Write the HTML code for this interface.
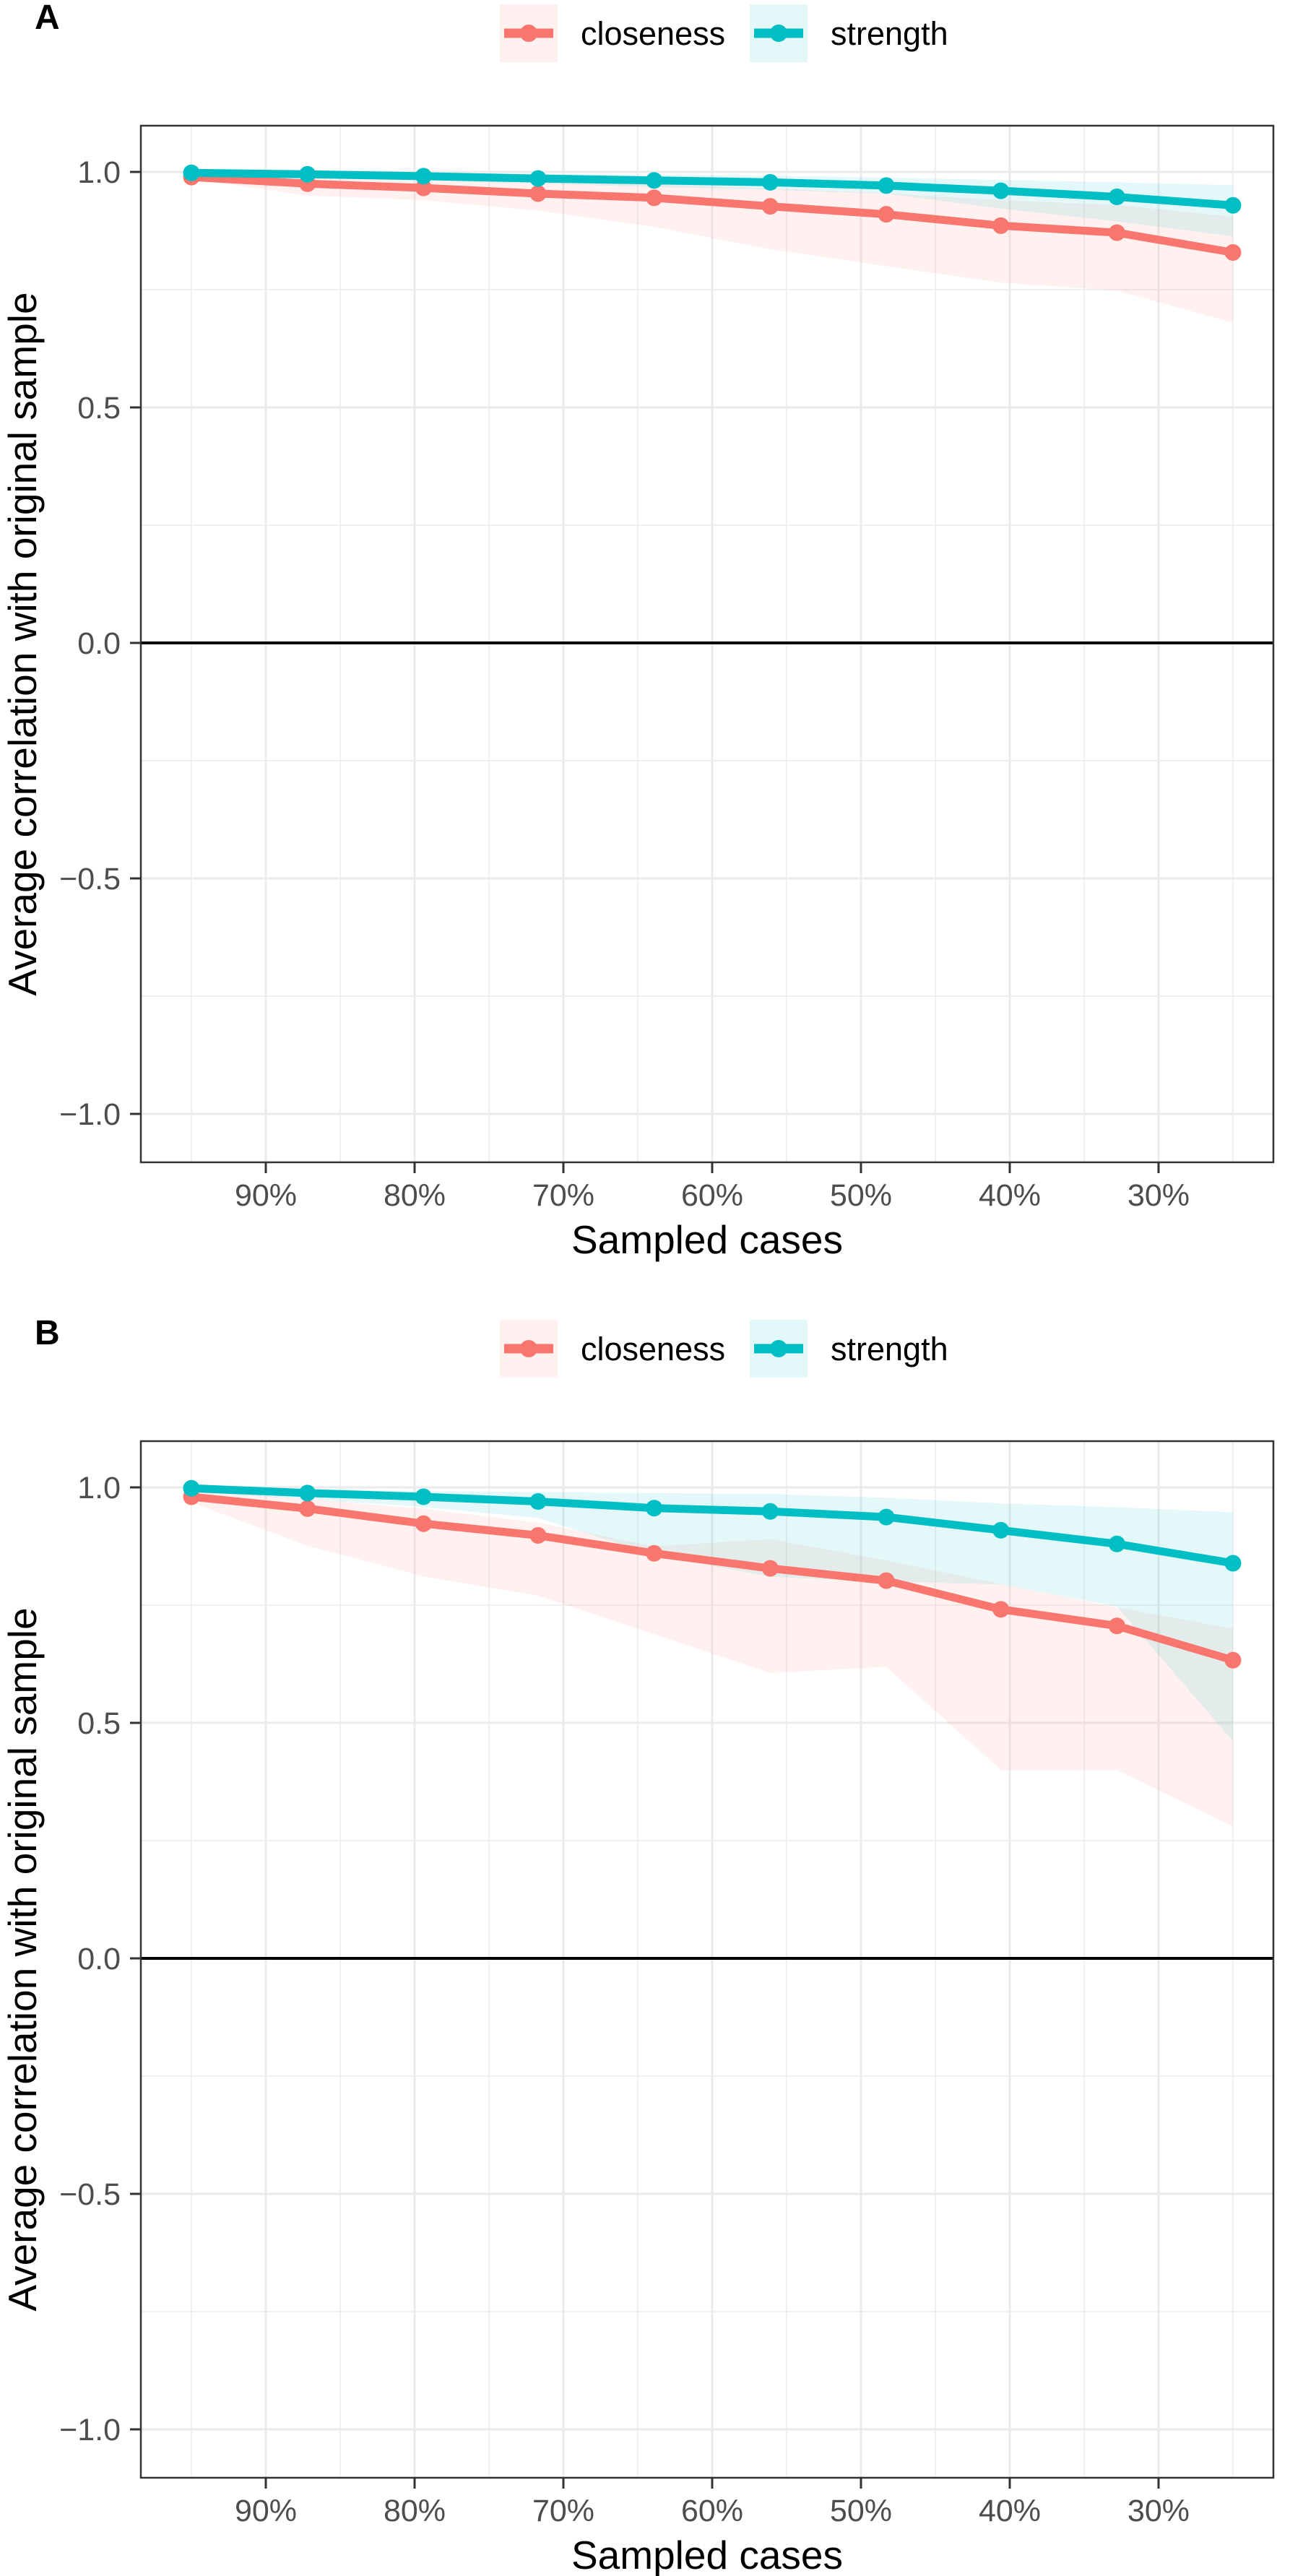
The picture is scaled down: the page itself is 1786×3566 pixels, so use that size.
<!DOCTYPE html>
<html><head><meta charset="utf-8">
<style>
html,body{margin:0;padding:0;background:#fff;}
svg{display:block;font-family:"Liberation Sans",Arial,sans-serif;}
</style></head>
<body>
<svg id="fig" width="1786" height="3566" viewBox="0 0 1786 3566" xmlns="http://www.w3.org/2000/svg"></svg>
<script>
// ---- data ----
const sampledPct = [95, 87.2, 79.4, 71.7, 63.9, 56.1, 48.3, 40.6, 32.8, 25];
const xTickPct = [90, 80, 70, 60, 50, 40, 30];
const xTickLabels = ["90%", "80%", "70%", "60%", "50%", "40%", "30%"];
const yTickVals = [1.0, 0.5, 0.0, -0.5, -1.0];
const yTickLabels = ["1.0", "0.5", "0.0", "\u22120.5", "\u22121.0"];

const aCloseness = [0.989, 0.975, 0.966, 0.954, 0.945, 0.927, 0.910, 0.886, 0.871, 0.829];
const aCloseLo   = [0.985, 0.950, 0.940, 0.918, 0.883, 0.836, 0.800, 0.765, 0.748, 0.680];
const aCloseHi   = [0.998, 0.992, 0.988, 0.980, 0.975, 0.965, 0.955, 0.940, 0.930, 0.905];
const aStrength  = [0.998, 0.995, 0.991, 0.986, 0.982, 0.978, 0.971, 0.960, 0.947, 0.929];
const aStrLo     = [0.995, 0.988, 0.982, 0.975, 0.968, 0.962, 0.954, 0.922, 0.895, 0.863];
const aStrHi     = [1.000, 0.999, 0.998, 0.996, 0.994, 0.992, 0.988, 0.983, 0.978, 0.972];

const bCloseness = [0.980, 0.955, 0.923, 0.898, 0.860, 0.828, 0.802, 0.741, 0.706, 0.633];
const bCloseLo   = [0.968, 0.876, 0.811, 0.770, 0.688, 0.606, 0.619, 0.400, 0.400, 0.280];
const bCloseHi   = [0.995, 0.975, 0.955, 0.925, 0.875, 0.890, 0.845, 0.795, 0.745, 0.700];
const bStrength  = [0.998, 0.988, 0.980, 0.970, 0.956, 0.949, 0.937, 0.909, 0.880, 0.839];
const bStrLo     = [0.990, 0.975, 0.958, 0.935, 0.857, 0.810, 0.800, 0.794, 0.747, 0.461];
const bStrHi     = [1.000, 0.996, 0.992, 0.990, 0.988, 0.986, 0.978, 0.966, 0.958, 0.947];

const NS = "http://www.w3.org/2000/svg";
const svg = document.getElementById("fig");
const RED = "#F8766D", TEAL = "#00BFC4";

function mk(tag, attrs, parent) {
  const e = document.createElementNS(NS, tag);
  for (const k in attrs) e.setAttribute(k, attrs[k]);
  parent.appendChild(e);
  return e;
}

function drawPanel(off, label, close, closeLo, closeHi, str, strLo, strHi) {
  const g = mk("g", {}, svg);
  
  
  const L = 195, R = 1763, T = 174 + off, B = 1609 + off;
  const xs = p => 368 + (90 - p) * 20.6;
  const ys = v => 890 + off - v * 652;

  const pl = mk("text", {x: 48, y: 40 + off, "font-size": 48, "font-weight": "bold", fill: "#000"}, g);
  pl.textContent = label;
  
  

  const leg = mk("g", {}, g);
  
  
  const entries = [["closeness", RED, 692, 804], ["strength", TEAL, 1038, 1150]];
  entries.forEach(en => {
    const eg = mk("g", {}, leg);
    
    
    mk("rect", {x: en[2], y: 6 + off, width: 80, height: 80, fill: en[1], "fill-opacity": 0.1}, eg);
    mk("line", {x1: en[2] + 6, x2: en[2] + 74, y1: 46 + off, y2: 46 + off, stroke: en[1], "stroke-width": 13}, eg);
    mk("circle", {cx: en[2] + 40, cy: 46 + off, r: 12, fill: en[1]}, eg);
    const t = mk("text", {x: en[3], y: 62 + off, "font-size": 45, fill: "#000"}, eg);
    t.textContent = en[0];
  });

  const grid = mk("g", {}, g);
  
  
  [0.75, 0.25, -0.25, -0.75].forEach(v => mk("line", {x1: L, x2: R, y1: ys(v), y2: ys(v), stroke: "#ebebeb", "stroke-width": 1.5}, grid));
  [95, 85, 75, 65, 55, 45, 35, 25].forEach(p => mk("line", {x1: xs(p), x2: xs(p), y1: T, y2: B, stroke: "#ebebeb", "stroke-width": 1.5}, grid));
  yTickVals.forEach(v => mk("line", {x1: L, x2: R, y1: ys(v), y2: ys(v), stroke: "#ebebeb", "stroke-width": 3}, grid));
  xTickPct.forEach(p => mk("line", {x1: xs(p), x2: xs(p), y1: T, y2: B, stroke: "#ebebeb", "stroke-width": 3}, grid));

  function band(lo, hi, col, name) {
    let d = "";
    sampledPct.forEach((p, i) => { d += (i ? "L" : "M") + xs(p) + "," + ys(hi[i]); });
    for (let i = sampledPct.length - 1; i >= 0; i--) d += "L" + xs(sampledPct[i]) + "," + ys(lo[i]);
    const e = mk("path", {d: d + "Z", fill: col, "fill-opacity": 0.1}, g);
    
    
  }
  band(closeLo, closeHi, RED, 'closeness-band');
  band(strLo, strHi, TEAL, 'strength-band');

  const z = mk("line", {x1: L, x2: R, y1: ys(0), y2: ys(0), stroke: "#000", "stroke-width": 4}, g);
  
  

  function series(vals, col, name) {
    const sg = mk("g", {}, g);
    
    
    const pts = sampledPct.map((p, i) => xs(p) + "," + ys(vals[i])).join(" ");
    mk("polyline", {points: pts, fill: "none", stroke: col, "stroke-width": 11, "stroke-linejoin": "round"}, sg);
    sampledPct.forEach((p, i) => {
      const c = mk("circle", {cx: xs(p), cy: ys(vals[i]), r: 11.5, fill: col}, sg);
      
      
    });
  }
  series(close, RED, 'closeness');
  series(str, TEAL, 'strength');

  const bd = mk("rect", {x: L, y: T, width: R - L, height: B - T, fill: "none", stroke: "#333", "stroke-width": 2.5}, g);
  
  

  const ya = mk("g", {}, g);
  
  
  yTickVals.forEach((v, i) => {
    mk("line", {x1: L - 15, x2: L, y1: ys(v), y2: ys(v), stroke: "#333", "stroke-width": 3}, ya);
    const t = mk("text", {x: 167, y: ys(v) + 15, "font-size": 43, fill: "#4d4d4d", "text-anchor": "end"}, ya);
    t.textContent = yTickLabels[i];
  });
  const xa = mk("g", {}, g);
  
  
  xTickPct.forEach((p, i) => {
    mk("line", {x1: xs(p), x2: xs(p), y1: B, y2: B + 15, stroke: "#333", "stroke-width": 3}, xa);
    const t = mk("text", {x: xs(p), y: B + 60, "font-size": 43, fill: "#4d4d4d", "text-anchor": "middle"}, xa);
    t.textContent = xTickLabels[i];
  });
  const xt = mk("text", {x: (L + R) / 2, y: B + 126, "font-size": 55, fill: "#000", "text-anchor": "middle"}, g);
  xt.textContent = "Sampled cases";
  
  
  const cy = (T + B) / 2;
  const yt = mk("text", {x: 0, y: 0, "font-size": 55, fill: "#000", "text-anchor": "middle", transform: "translate(50," + cy + ") rotate(-90)"}, g);
  yt.textContent = "Average correlation with original sample";
  
  
}

drawPanel(0, "A", aCloseness, aCloseLo, aCloseHi, aStrength, aStrLo, aStrHi);
drawPanel(1821, "B", bCloseness, bCloseLo, bCloseHi, bStrength, bStrLo, bStrHi);
</script>
</body></html>
